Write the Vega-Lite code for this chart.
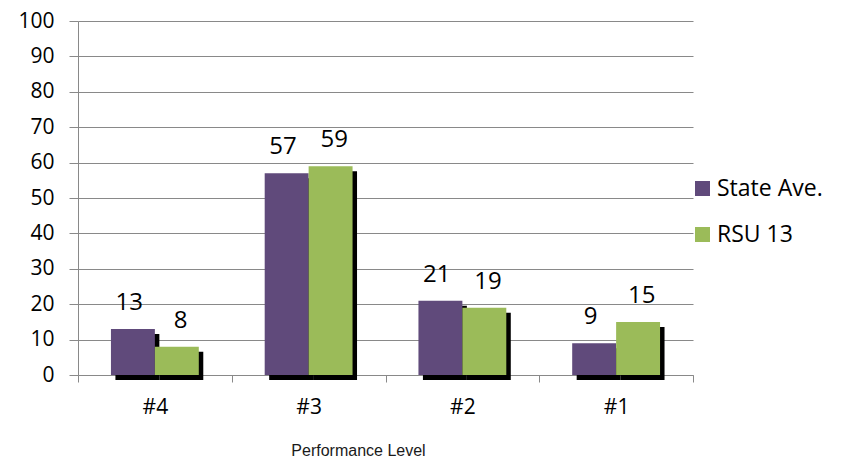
{
  "$schema": "https://vega.github.io/schema/vega-lite/v6.json",
  "width": 615,
  "height": 354,
  "autosize": "none",
  "padding": {"left": 78, "top": 21, "right": 172, "bottom": 87},
  "background": "white",
  "data": {
    "values": [
      {"level": "#4", "series": "State Ave.", "value": 13},
      {"level": "#4", "series": "RSU 13", "value": 8},
      {"level": "#3", "series": "State Ave.", "value": 57},
      {"level": "#3", "series": "RSU 13", "value": 59},
      {"level": "#2", "series": "State Ave.", "value": 21},
      {"level": "#2", "series": "RSU 13", "value": 19},
      {"level": "#1", "series": "State Ave.", "value": 9},
      {"level": "#1", "series": "RSU 13", "value": 15}
    ]
  },
  "encoding": {
    "x": {
      "field": "level",
      "type": "nominal",
      "sort": ["#4", "#3", "#2", "#1"],
      "scale": {"paddingInner": 0, "paddingOuter": 0},
      "axis": {
        "title": "Performance Level",
        "titleFont": "Liberation Sans",
        "titleFontSize": 16,
        "titleFontWeight": "normal",
        "titleColor": "#1a1a1a",
        "titleX": 280,
        "titleY": 80,
        "titleBaseline": "alphabetic",
        "titleAnchor": "middle",
        "titleAlign": "center",
        "labelAngle": 0,
        "labelFont": "Open Sans",
        "labelFontSize": 21,
        "labelColor": "black",
        "labelPadding": 14,
        "tickBand": "extent",
        "tickSize": 7,
        "tickColor": "#898989",
        "domainColor": "#898989",
        "grid": false
      }
    },
    "y": {
      "field": "value",
      "type": "quantitative",
      "scale": {"domain": [0, 100], "nice": false},
      "axis": {
        "title": null,
        "values": [0, 10, 20, 30, 40, 50, 60, 70, 80, 90, 100],
        "labelFont": "Open Sans",
        "labelFontSize": 21,
        "labelColor": "black",
        "labelPadding": 15,
        "tickSize": 9,
        "tickColor": "#898989",
        "domainColor": "#898989",
        "gridColor": "#898989",
        "gridOpacity": 1
      }
    }
  },
  "layer": [
    {
      "mark": {"type": "bar", "color": "black", "yOffset": 5, "y2Offset": -3},
      "encoding": {
        "xOffset": {
          "field": "series",
          "type": "nominal",
          "sort": ["State Ave.", "RSU 13"],
          "scale": {"paddingInner": 0, "paddingOuter": 0.75, "align": 0.568}
        }
      }
    },
    {
      "mark": {"type": "bar"},
      "encoding": {
        "xOffset": {
          "field": "series",
          "type": "nominal",
          "sort": ["State Ave.", "RSU 13"],
          "scale": {"paddingInner": 0, "paddingOuter": 0.75}
        },
        "color": {
          "field": "series",
          "type": "nominal",
          "sort": ["State Ave.", "RSU 13"],
          "scale": {"domain": ["State Ave.", "RSU 13"], "range": ["#604A7B", "#9BBB59"]},
          "legend": {
            "title": null,
            "orient": "none",
            "legendX": 613,
            "legendY": 156,
            "symbolType": "square",
            "symbolSize": 225,
            "symbolStrokeWidth": 0,
            "symbolOpacity": 1,
            "labelFont": "Open Sans",
            "labelFontSize": 23,
            "labelColor": "black",
            "labelOffset": 3,
            "rowPadding": 22
          }
        }
      }
    },
    {
      "mark": {"type": "text", "font": "Open Sans", "fontSize": 24, "color": "black", "baseline": "alphabetic", "dy": -19},
      "encoding": {
        "xOffset": {
          "field": "series",
          "type": "nominal",
          "sort": ["State Ave.", "RSU 13"],
          "scale": {"type": "point", "padding": 1.247}
        },
        "text": {"field": "value", "type": "quantitative"}
      }
    }
  ],
  "resolve": {"scale": {"xOffset": "independent"}},
  "config": {"view": {"stroke": null}}
}
